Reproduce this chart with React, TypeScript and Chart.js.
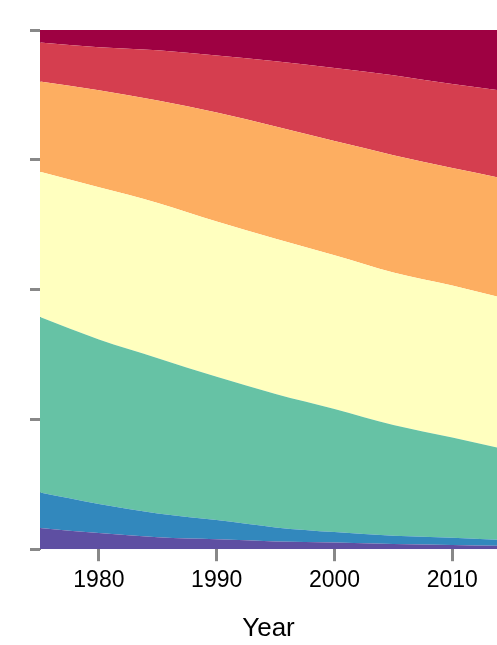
import React, { useEffect, useRef } from "react";
import { Chart, registerables } from "chart.js";

Chart.register(...registerables);

const years = [1975, 1980, 1985, 1990, 1995, 2000, 2005, 2010, 2015];
const layerNames = ["L1", "L2", "L3", "L4", "L5", "L6", "L7"];
const layerColors = ["#5e4fa2", "#3288bd", "#66c2a5", "#ffffbf", "#fdae61", "#d53e4f", "#9e0142"];

const purple = [4.1, 3.1, 2.3, 1.9, 1.5, 1.3, 1.0, 0.8, 0.6];
const blue = [6.8, 5.6, 4.6, 3.7, 2.7, 2.0, 1.6, 1.4, 1.1];
const teal = [33.8, 31.7, 29.9, 27.6, 25.7, 23.7, 21.3, 19.3, 17.3];
const yellow = [28.0, 29.3, 29.9, 29.9, 29.9, 29.6, 29.4, 29.3, 29.0];
const orange = [17.4, 18.7, 19.7, 21.0, 21.6, 22.0, 22.6, 22.6, 23.1];
const red = [7.5, 8.3, 9.7, 11.0, 12.6, 14.1, 15.4, 16.2, 17.0];
const darkRed = [2.4, 3.3, 3.9, 4.9, 6.0, 7.3, 8.7, 10.4, 11.9];

const xTicks = [1980, 1990, 2000, 2010];
const yTicks = [0, 25, 50, 75, 100];
const xTitle = "Year";

const series = [purple, blue, teal, yellow, orange, red, darkRed];

export default function App() {
  const ref = useRef<HTMLCanvasElement | null>(null);
  useEffect(() => {
    if (!ref.current) return;
    const font = "'Liberation Sans', Arial, Helvetica, sans-serif";
    const chart = new Chart(ref.current, {
      type: "line",
      data: {
        datasets: series.map((vals, i) => ({
          label: layerNames[i],
          data: vals.map((v, j) => ({ x: years[j], y: v })),
          backgroundColor: layerColors[i],
          borderColor: layerColors[i],
          borderWidth: 0,
          pointRadius: 0,
          fill: i === 0 ? "origin" : "-1",
          cubicInterpolationMode: "monotone" as const,
        })),
      },
      options: {
        animation: false,
        responsive: true,
        maintainAspectRatio: false,
        layout: { padding: { left: 30, top: 30, right: 0, bottom: 0 } },
        plugins: { legend: { display: false }, tooltip: { enabled: false } },
        scales: {
          x: {
            type: "linear",
            min: 1975,
            max: 2013.8,
            afterBuildTicks: (s: any) => {
              s.ticks = xTicks.map((v) => ({ value: v }));
            },
            grid: {
              drawOnChartArea: false,
              color: "#888",
              tickColor: "#888",
              tickLength: 12,
              tickWidth: 3,
            },
            border: { display: false },
            ticks: {
              color: "#000",
              font: { family: font, size: 23 },
              padding: 6,
              maxRotation: 0,
              callback: (v: any) => String(v),
            },
            title: {
              display: true,
              text: xTitle,
              color: "#000",
              font: { family: font, size: 26 },
              padding: { top: 12, bottom: 1 },
            },
          },
          y: {
            stacked: true,
            min: 0,
            max: 100,
            afterBuildTicks: (s: any) => {
              s.ticks = yTicks.map((v) => ({ value: v }));
            },
            grid: {
              drawOnChartArea: false,
              color: "#888",
              tickColor: "#888",
              tickLength: 10,
              tickWidth: 3,
            },
            border: { display: true, color: "rgba(40,40,40,0.6)", width: 1 },
            ticks: { display: false },
          },
        },
      },
    });
    return () => chart.destroy();
  }, []);
  return (
    <div style={{ position: "absolute", left: 0, top: 0, width: 497, height: 645 }}>
      <canvas ref={ref} />
    </div>
  );
}
